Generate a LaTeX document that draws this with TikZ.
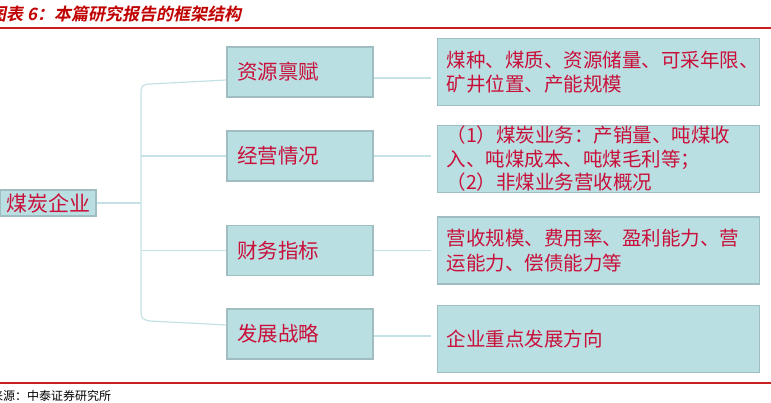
\documentclass[tikz,border=0pt]{standalone}
\usepackage{fontspec}
\newfontfamily\cjk{Noto Sans CJK SC}
\newfontfamily\cjktitle[UprightFont={* Bold}, FakeSlant=0.2]{Noto Sans CJK SC}
\usetikzlibrary{positioning}

\definecolor{boxfill}{RGB}{186,223,226}
\definecolor{boxline}{RGB}{160,190,194}
\definecolor{linkline}{RGB}{196,226,230}
\definecolor{boxtext}{RGB}{200,16,58}
\definecolor{titlered}{RGB}{192,0,0}
\definecolor{rulered}{RGB}{200,30,30}

\begin{document}
\begin{tikzpicture}[
    x=1pt, y=-1pt,
    every node/.style={font=\cjk, inner sep=0pt},
    root/.style={draw=boxline, line width=1.5pt, fill=boxfill, text=boxtext, minimum width=96pt, minimum height=26pt, font=\cjk\fontsize{21}{24}\selectfont},
    box/.style={draw=boxline, line width=1.5pt, fill=boxfill, text=boxtext, minimum height=50pt, inner xsep=10pt, text width=126pt, align=left, font=\cjk\fontsize{20.5}{24}\selectfont},
    longbox/.style={draw=boxline, line width=1.5pt, fill=boxfill, text=boxtext, minimum height=67pt, inner xsep=9pt, text width=304pt, align=left, font=\cjk\fontsize{19.5}{24.5}\selectfont},
    link/.style={draw=linkline, line width=1.2pt}
]
\useasboundingbox (0,0) rectangle (771,403);

% 标题与页脚
\node[anchor=west, text=titlered, font=\cjktitle\fontsize{17}{19}\selectfont] (title) at (-11,14) {图表 6：本篇研究报告的框架结构};
\draw[rulered, line width=2pt] (0,28) -- (771,28);
\draw[rulered, line width=2.5pt] (0,383) -- (771,383);
\node[anchor=west, font=\cjk\fontsize{12}{14}\selectfont] (source) at (-9,396) {来源：中泰证券研究所};

% 左侧节点
\node[root] (coal) at (48,203) {煤炭企业};
\coordinate (trunk) at (141,203);

% 中间节点
\node[box] (zy) at (300,72) {资源禀赋};
\node[box] (jy) at (300,156) {经营情况};
\node[box] (cw) at (300,250.5) {财务指标};
\node[box] (fz) at (300,334) {发展战略};

% 右侧长方形节点
\node[longbox, right=63pt of zy] (zyd) {煤种、煤质、资源储量、可采年限、\\矿井位置、产能规模};
\node[longbox, right=63pt of jy, yshift=-3pt, font=\cjk\fontsize{19.5}{23.5}\selectfont] (jyd) {（1）煤炭业务：产销量、吨煤收\\入、吨煤成本、吨煤毛利等；\\（2）非煤业务营收概况};
\node[longbox, right=63pt of cw] (cwd) {营收规模、费用率、盈利能力、营\\运能力、偿债能力等};
\node[longbox, right=63pt of fz, yshift=-5pt] (fzd) {企业重点发展方向};

% 连接线
\draw[link] (coal.east) -- (trunk);
\draw[link] ([yshift=-8pt]zy.west) -- (150,84) .. controls (143,84.5) and (141,86) .. (141,92)
    -- (141,312) .. controls (141,318) and (143,320) .. (150,321) -- ([yshift=9pt]fz.west);
\draw[link] (jy.west -| trunk) -- (jy.west);
\draw[link] (cw.west -| trunk) -- (cw.west);

% 右侧连接线
\draw[link, shorten >=6pt] ([yshift=-6pt]zy.east) -- ([yshift=-6pt]zy.east -| zyd.west);
\draw[link, shorten >=6pt] (jy.east) -- (jy.east -| jyd.west);
\draw[link, shorten >=6pt] (cw.east) -- (cw.east -| cwd.west);
\draw[link, shorten >=6pt] ([yshift=-2pt]fz.east) -- ([yshift=-2pt]fz.east -| fzd.west);

\end{tikzpicture}
\end{document}
